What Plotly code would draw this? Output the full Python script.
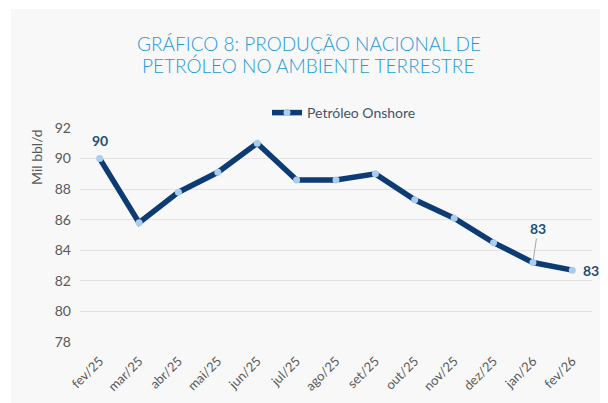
import plotly.graph_objects as go

months = ["fev/25", "mar/25", "abr/25", "mai/25", "jun/25", "jul/25", "ago/25",
          "set/25", "out/25", "nov/25", "dez/25", "jan/26", "fev/26"]
onshore = [90.0, 85.8, 87.8, 89.1, 91.0, 88.6, 88.6, 89.0, 87.3, 86.1, 84.5, 83.2, 82.7]
y_ticks = [78, 80, 82, 84, 86, 88, 90, 92]
series_name = "Petróleo Onshore"
title_lines = ["GRÁFICO 8: PRODUÇÃO NACIONAL DE", "PETRÓLEO NO AMBIENTE TERRESTRE"]
y_title = "Mil bbl/d"

# page body has an 8px margin: figure sits at (8, 8) in the 608x403 window
OFF = 8
W, H = 600, 395
L, R, T, B = 80 - OFF, 16, 128 - OFF, 61
panel = "#f8f8f8"
navy = "#0d3b73"
label_col = "#1f4e79"
grey = "#595959"

fig = go.Figure()
fig.add_trace(go.Scatter(
    x=list(range(len(months))), y=onshore, name=series_name,
    mode="lines+markers",
    line=dict(color=navy, width=5.5),
    marker=dict(color="#a9cdef", size=7, line=dict(width=0)),
    showlegend=True,
))

pw, ph = W - L - R, H - T - B
def px_x(p):  # window pixel -> paper x
    return (p - OFF - L) / pw
def px_y(p):  # window pixel -> paper y
    return (H - B - (p - OFF)) / ph

shapes = [dict(type="rect", xref="paper", yref="paper", layer="below",
               x0=px_x(11), x1=px_x(612), y0=px_y(407), y1=px_y(9),
               fillcolor=panel, line=dict(width=0))]

lab_font = dict(family="Lato", size=14, color=label_col)
title_font = dict(family="Lato", size=19, color="#1e9ad6", weight=300)
annotations = [
    dict(xref="paper", yref="paper", x=px_x(309), y=px_y(44), text=title_lines[0],
         xanchor="center", yanchor="middle", showarrow=False, font=title_font),
    dict(xref="paper", yref="paper", x=px_x(308), y=px_y(65.5), text=title_lines[1],
         xanchor="center", yanchor="middle", showarrow=False, font=title_font),
    dict(x=0, y=onshore[0], text="<b>%d</b>" % round(onshore[0]), showarrow=False,
         yshift=18, font=lab_font),
    dict(x=11, y=onshore[11], text="<b>%d</b>" % round(onshore[11]), showarrow=True,
         arrowhead=0, arrowwidth=1, arrowcolor="#a6a6a6", ax=5, ay=-34, standoff=3,
         font=lab_font),
    dict(x=12, y=onshore[12], text="<b>%d</b>" % round(onshore[12]), showarrow=False,
         xshift=19, font=lab_font),
    dict(xref="paper", yref="paper", x=px_x(36), y=px_y(157), text=y_title,
         xanchor="center", yanchor="middle",
         textangle=-90, showarrow=False, font=dict(family="Lato", size=14, color=grey)),
]

fig.update_layout(
    width=W, height=H,
    margin=dict(l=L, r=R, t=T, b=B),
    paper_bgcolor="white", plot_bgcolor=panel,
    showlegend=True,
    legend=dict(orientation="h", x=px_x(344), y=px_y(113), xanchor="center",
                yanchor="middle", bgcolor="rgba(0,0,0,0)",
                font=dict(family="Lato", size=14, color="#44546a")),
    xaxis=dict(range=[-0.5, len(months) - 0.5], tickmode="array",
               tickvals=list(range(len(months))), ticktext=months,
               tickangle=-45, showgrid=False, zeroline=False, showline=False,
               ticklabelstandoff=8, automargin=False,
               tickfont=dict(family="Lato", size=13, color=grey)),
    yaxis=dict(range=[78, 92], tickmode="array", tickvals=y_ticks,
               showgrid=True, gridcolor="#e3e3e3", gridwidth=1, zeroline=False,
               showline=False, ticklabelstandoff=8, automargin=False,
               tickfont=dict(family="Lato", size=14, color=grey)),
    shapes=shapes,
    annotations=annotations,
)

fig.write_html("out.html")
